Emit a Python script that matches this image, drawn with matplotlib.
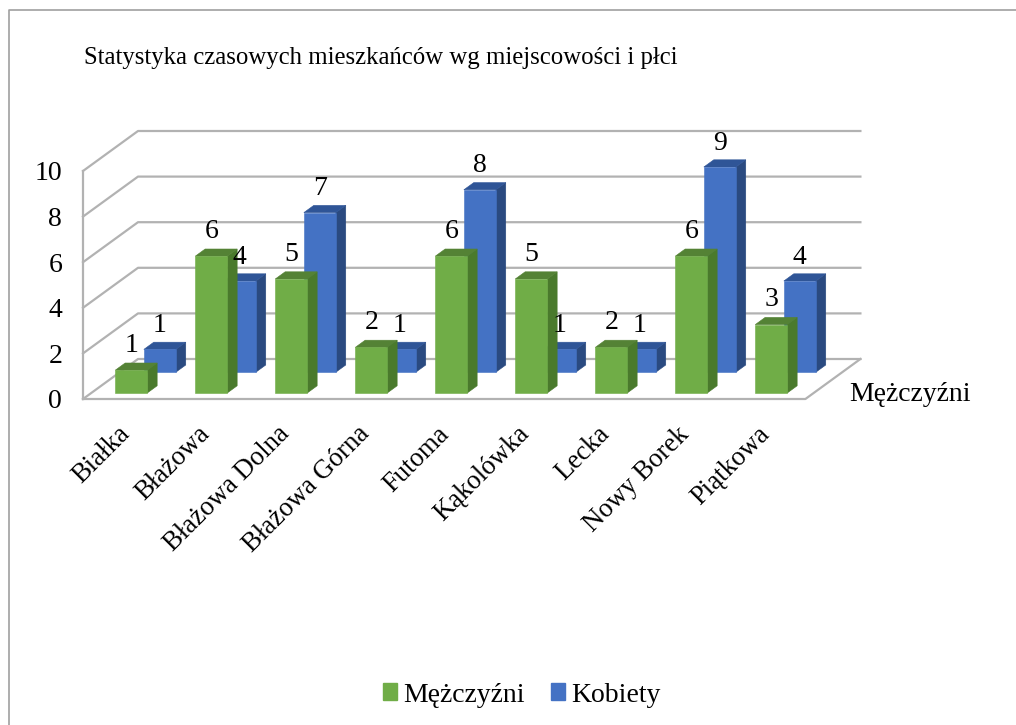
import matplotlib
matplotlib.use('Agg')
import matplotlib.pyplot as plt
from matplotlib.patches import Patch
from matplotlib.transforms import ScaledTranslation

plt.rcParams['font.family'] = ['Liberation Serif', 'DejaVu Serif']

categories = ['Białka', 'Błażowa', 'Błażowa Dolna', 'Błażowa Górna', 'Futoma',
              'Kąkolówka', 'Lecka', 'Nowy Borek', 'Piątkowa']
mezczyzni = [1, 6, 5, 2, 6, 5, 2, 6, 3]
kobiety = [1, 4, 7, 1, 8, 1, 1, 9, 4]
y_ticks = [0, 2, 4, 6, 8, 10]

W, H = 1016, 725
# oblique depth: one full floor depth in data units
DX = 55 / 80
DY = 40 / 22.8
BAR_W = 0.4
GRID = '#b2b2b2'

fig = plt.figure(figsize=(W / 100, H / 100), dpi=100)
# plot area = front wall of the box, in pixels 83..803 / 171..399
ax = fig.add_axes([83 / W, 1 - 399 / H, 720 / W, 228 / H])
ax.set_xlim(0, 9)
ax.set_ylim(0, 10)
ax.patch.set_visible(False)
for s in ax.spines.values():
    s.set_visible(False)


def pr(x, y, d):
    return x + d * DX, y + d * DY


def line3(pts, z=1):
    xs, ys = zip(*[pr(*p) for p in pts])
    ax.plot(xs, ys, color=GRID, lw=1.6, zorder=z, clip_on=False, solid_capstyle='projecting')


def bar3(i, val, d0, d1, front, top, side, z, lab):
    x0 = i + 0.5 - BAR_W / 2
    x1 = x0 + BAR_W
    face = [pr(x0, 0, d0), pr(x1, 0, d0), pr(x1, val, d0), pr(x0, val, d0)]
    roof = [pr(x0, val, d0), pr(x1, val, d0), pr(x1, val, d1), pr(x0, val, d1)]
    wall = [pr(x1, 0, d0), pr(x1, 0, d1), pr(x1, val, d1), pr(x1, val, d0)]
    for poly, c in ((wall, side), (roof, top), (face, front)):
        ax.fill(*zip(*poly), color=c, lw=0.4, zorder=z, clip_on=False)
    tx, ty = pr(i + 0.5, val, d0)
    ax.text(tx, ty + lab, str(val), ha='center', va='center', fontsize=20,
            color='black', zorder=6, clip_on=False)


# walls and floor
for v in y_ticks:
    line3([(0, v, 0), (0, v, 1), (9.03, v, 1)])
line3([(0, 0, 0), (0, 10, 0)])
line3([(0, 0, 0), (9.03, 0, 0), (9.03, 0, 1)])

for i in range(len(categories)):
    bar3(i, kobiety[i], 0.67, 0.85, '#4472c4', '#2f5597', '#2a4a80', 2, 1.05)
for i in range(len(categories)):
    bar3(i, mezczyzni[i], 0.15, 0.33, '#70ad47', '#548235', '#4a7a2c', 3, 1.09)

ax.set_yticks(y_ticks)
ax.set_yticklabels([str(v) for v in y_ticks], fontsize=20)
ax.tick_params(axis='y', length=0, pad=15)
ax.set_xticks([i + 0.5 for i in range(len(categories))])
ax.set_xticklabels(categories, fontsize=19.3, rotation=45, ha='right', rotation_mode='anchor')
ax.tick_params(axis='x', length=0, pad=16.3)
shift = ScaledTranslation(-6 / 100, 0, fig.dpi_scale_trans)
for lab in ax.get_xticklabels():
    lab.set_transform(lab.get_transform() + shift)

fig.text(84 / W, 1 - 58 / H, 'Statystyka czasowych mieszkańców wg miejscowości i płci',
         fontsize=17.8, va='center', ha='left')
fig.text(849 / W, 1 - 394.5 / H, 'Mężczyźni', fontsize=20, va='center', ha='left')

handles = [Patch(color='#70ad47', label='Mężczyźni'), Patch(color='#4472c4', label='Kobiety')]
fig.legend(handles=handles, loc='center', bbox_to_anchor=(522 / W, 1 - 695 / H), ncols=2,
           frameon=False, fontsize=20, handlelength=0.5, handleheight=0.55,
           handletextpad=0.22, columnspacing=0.94)

# outer frame, only left and top show
fig.add_artist(plt.Line2D([9 / W, 9 / W, 1], [0, 1 - 10 / H, 1 - 10 / H], color='#a0a0a0', lw=1.2))

fig.savefig('out.png', dpi=100)
